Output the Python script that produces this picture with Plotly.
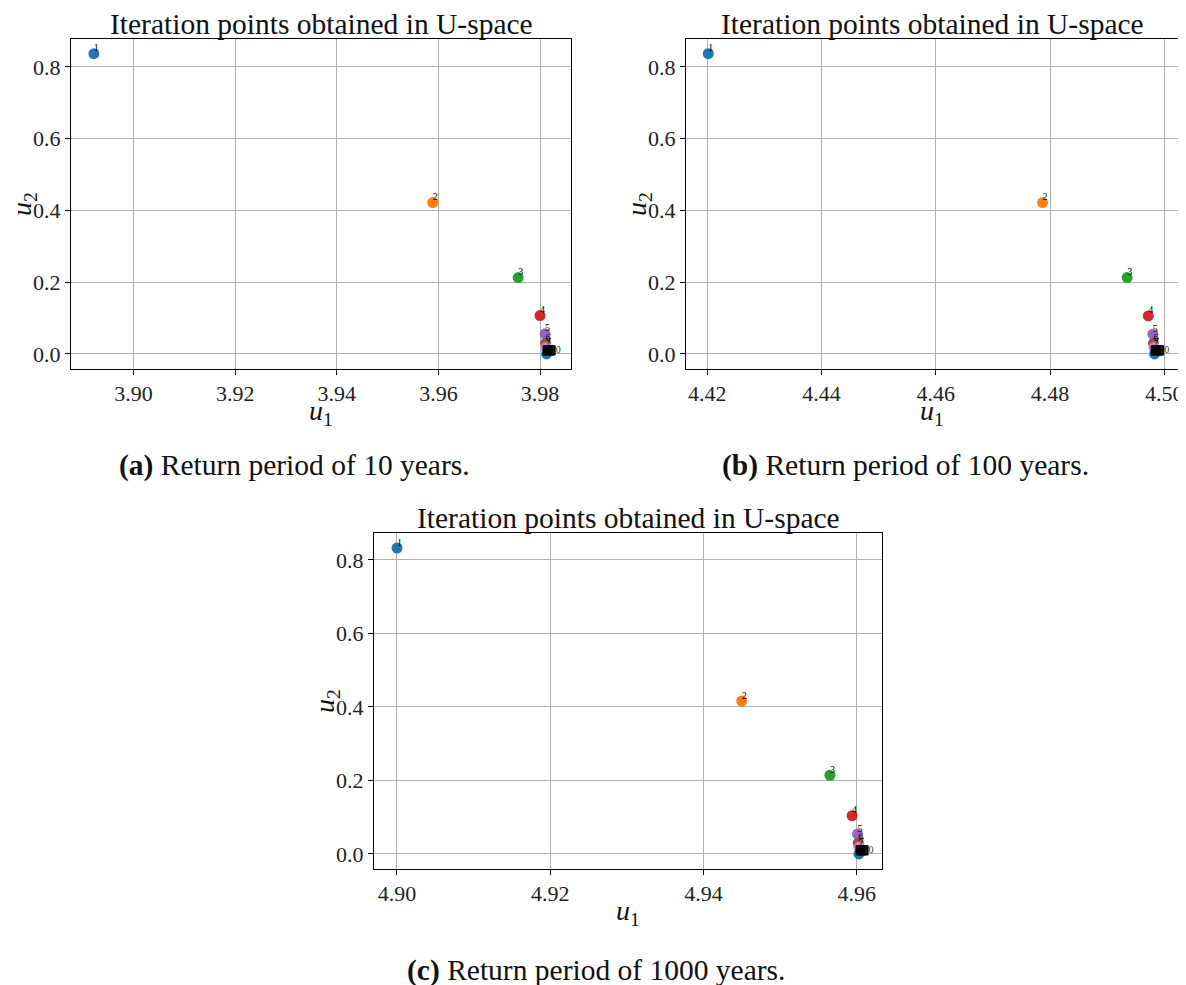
import plotly.graph_objects as go

# the page body adds an 8px margin, so the figure is drawn 8px in from the corner
OFF = 8
W, H = 1178, 977
FONT = "Liberation Serif"

# matplotlib tab10 colours used for successive iterations
point_colors = ['#1f77b4', '#ff7f0e', '#2ca02c', '#d62728', '#9467bd',
                '#8c564b', '#e377c2', '#1f77b4']
point_labels = ['1', '2', '3', '4', '5', '6', '7']

# (a) return period 10 years
u1_a = [3.8922, 3.9589, 3.9757, 3.9800, 3.9810, 3.9811, 3.9812, 3.9813]
u2_a = [0.837, 0.422, 0.213, 0.107, 0.056, 0.030, 0.018, 0.000]
# (b) return period 100 years
u1_b = [4.4202, 4.4787, 4.4935, 4.4972, 4.4980, 4.4981, 4.4982, 4.4983]
u2_b = [0.837, 0.422, 0.213, 0.106, 0.055, 0.030, 0.018, 0.000]
# (c) return period 1000 years
u1_c = [4.9000, 4.9450, 4.9565, 4.9594, 4.9601, 4.9602, 4.9603, 4.9603]
u2_c = [0.832, 0.416, 0.214, 0.104, 0.054, 0.030, 0.018, 0.000]

# converged points (drawn as black squares)
conv_u1_a = [3.9815, 3.9817, 3.9819, 3.9821]
conv_u1_b = [4.4985, 4.4987, 4.4989, 4.4991]
conv_u1_c = [4.9605, 4.9606, 4.9608, 4.9609]
conv_u2 = [0.010, 0.010, 0.010, 0.010]
conv_label = '10'

x_ticks_a = [3.90, 3.92, 3.94, 3.96, 3.98]
x_ticks_b = [4.42, 4.44, 4.46, 4.48, 4.50]
x_ticks_c = [4.90, 4.92, 4.94, 4.96]
y_ticks = [0.0, 0.2, 0.4, 0.6, 0.8]

title_text = "Iteration points obtained in U-space"
captions = ["<b>(a)</b> Return period of 10 years.",
            "<b>(b)</b> Return period of 100 years.",
            "<b>(c)</b> Return period of 1000 years."]

# panel boxes in screen pixels: left, top, right, bottom
boxes = [(71, 39, 571, 369), (686, 39, 1178, 369), (374, 533, 882, 869)]
xranges = [[3.8877, 3.9861], [4.4163, 4.5024], [4.897, 4.9633]]
yranges = [[-0.042, 0.878], [-0.042, 0.878], [-0.041, 0.873]]
xticks = [x_ticks_a, x_ticks_b, x_ticks_c]
data = [(u1_a, u2_a, conv_u1_a), (u1_b, u2_b, conv_u1_b), (u1_c, u2_c, conv_u1_c)]


def px(xp):
    return (xp - OFF) / W


def py(yp):
    return 1 - (yp - OFF) / H


fig = go.Figure()
annotations = []
n_lab = len(point_labels)
for i, (box, (u1, u2, cu1)) in enumerate(zip(boxes, data)):
    sx = '' if i == 0 else str(i + 1)
    xa, ya = 'x' + sx, 'y' + sx
    fig.add_trace(go.Scatter(x=u1, y=u2, mode='markers', xaxis=xa, yaxis=ya,
                             marker=dict(size=11, color=point_colors, line=dict(width=0)),
                             showlegend=False, hoverinfo='skip'))
    fig.add_trace(go.Scatter(x=cu1, y=conv_u2, mode='markers', xaxis=xa, yaxis=ya,
                             marker=dict(size=10, symbol='square', color='black'),
                             showlegend=False, hoverinfo='skip'))
    fig.add_trace(go.Scatter(x=u1[:n_lab], y=u2[:n_lab], mode='text', text=point_labels,
                             textposition='top right', xaxis=xa, yaxis=ya,
                             textfont=dict(family=FONT, size=10, color='black'),
                             showlegend=False, hoverinfo='skip'))
    fig.add_trace(go.Scatter(x=cu1[-1:], y=conv_u2[-1:], mode='text', text=[conv_label],
                             textposition='middle right', xaxis=xa, yaxis=ya,
                             textfont=dict(family=FONT, size=10, color='#333'),
                             showlegend=False, hoverinfo='skip'))
    l, t, r, b = box
    axis_common = dict(showline=True, linecolor='black', linewidth=1, mirror=True,
                       ticks='outside', ticklen=5, tickcolor='black',
                       showgrid=True, gridcolor='#b0b0b0', gridwidth=1,
                       zeroline=False, automargin=False,
                       tickfont=dict(family=FONT, size=22, color='#222'))
    fig.layout['xaxis' + sx] = dict(domain=[px(l), px(r)], range=xranges[i],
                                    anchor=ya, tickvals=xticks[i],
                                    ticktext=[f"{v:.2f}" for v in xticks[i]],
                                    **axis_common)
    fig.layout['yaxis' + sx] = dict(domain=[py(b), py(t)], range=yranges[i],
                                    anchor=xa, tickvals=y_ticks,
                                    ticktext=[f"{v:.1f}" for v in y_ticks],
                                    **axis_common)
    cx = px((l + r) / 2)
    annotations.append(dict(x=cx, y=py(t), xref='paper', yref='paper',
                            text=title_text, showarrow=False, xanchor='center',
                            yanchor='bottom', yshift=-3,
                            font=dict(family=FONT, size=29.5, color='#111')))
    annotations.append(dict(x=cx, y=py(b), xref='paper', yref='paper',
                            text="<i>u</i><sub>1</sub>", showarrow=False,
                            xanchor='center', yanchor='middle', yshift=-43,
                            font=dict(family=FONT, size=28, color='#111')))
    annotations.append(dict(x=px(l), y=py((t + b) / 2), xref='paper', yref='paper',
                            text="<i>u</i><sub>2</sub>", showarrow=False, textangle=-90,
                            xanchor='center', yanchor='middle', xshift=-48,
                            font=dict(family=FONT, size=28, color='#111')))

cap_pos = [(294, 466), (905, 466), (596, 970)]
for cap, (cxp, cyp) in zip(captions, cap_pos):
    annotations.append(dict(x=px(cxp), y=py(cyp), xref='paper', yref='paper',
                            text=cap, showarrow=False, xanchor='center', yanchor='middle',
                            font=dict(family=FONT, size=29.5, color='#111')))

fig.update_layout(width=W, height=H, margin=dict(l=0, r=0, t=0, b=0),
                  paper_bgcolor='white', plot_bgcolor='white',
                  annotations=annotations, showlegend=False)
fig.write_html("out.html")
